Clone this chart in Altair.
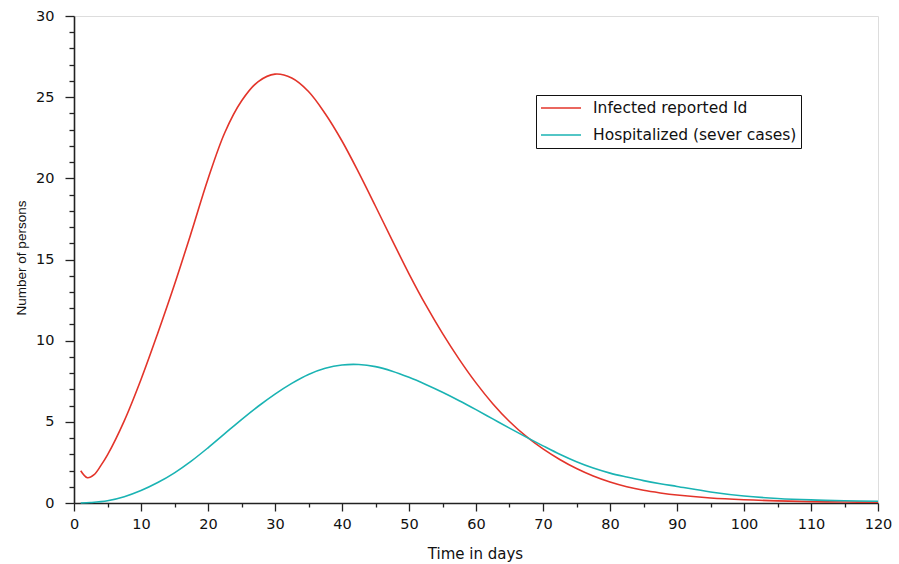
import altair as alt
import pandas as pd

# Infected reported Id
t_inf = [1, 2, 3, 4, 5, 7.5, 10, 12.5, 15, 17.5, 20, 22.5, 25, 27.5, 30, 32.5, 35, 37.5, 40,
         42.5, 45, 47.5, 50, 52.5, 55, 57.5, 60, 62.5, 65, 67.5, 70, 72.5, 75, 77.5, 80,
         82.5, 85, 87.5, 90, 95, 100, 105, 110, 115, 120]
v_inf = [1.99, 1.56, 1.75, 2.3, 2.96, 5.06, 7.61, 10.46, 13.46, 16.66, 19.96, 22.81, 24.76, 25.96,
         26.42, 26.18, 25.35, 23.98, 22.3, 20.35, 18.28, 16.18, 14.12, 12.2, 10.45, 8.85, 7.4,
         6.12, 5.02, 4.1, 3.33, 2.68, 2.12, 1.66, 1.29, 1.0, 0.78, 0.62, 0.49, 0.31, 0.2, 0.13,
         0.085, 0.06, 0.045]

# Hospitalized (sever cases)
t_hos = [1, 2.5, 5, 7.5, 10, 12.5, 15, 17.5, 20, 22.5, 25, 27.5, 30, 32.5, 35, 37.5, 40, 42.5,
         45, 47.5, 50, 52.5, 55, 57.5, 60, 62.5, 65, 67.5, 70, 72.5, 75, 77.5, 80, 82.5, 85,
         87.5, 90, 95, 100, 105, 110, 115, 120]
v_hos = [0.0, 0.03, 0.14, 0.39, 0.77, 1.26, 1.86, 2.58, 3.4, 4.27, 5.14, 5.96, 6.71, 7.37, 7.92,
         8.3, 8.5, 8.53, 8.4, 8.12, 7.74, 7.3, 6.82, 6.3, 5.75, 5.18, 4.61, 4.06, 3.52, 3.0, 2.54,
         2.15, 1.84, 1.6, 1.38, 1.19, 1.02, 0.68, 0.43, 0.28, 0.19, 0.14, 0.11]

series_names = ["Infected reported Id", "Hospitalized (sever cases)"]
series_colors = ["#e3342a", "#1ab3b3"]

x_ticks = list(range(0, 121, 5))
y_ticks = list(range(0, 31, 1))

df = pd.concat([
    pd.DataFrame({"t": t_inf, "v": v_inf, "s": series_names[0], "o": 0}),
    pd.DataFrame({"t": t_hos, "v": v_hos, "s": series_names[1], "o": 1}),
])

FONT = "DejaVu Sans"

chart = alt.Chart(df).mark_line(strokeWidth=1.6, interpolate="catmull-rom").encode(
    x=alt.X("t:Q", scale=alt.Scale(domain=[0, 120], nice=False, zero=False),
            axis=alt.Axis(title="Time in days", values=x_ticks, grid=False,
                          labelExpr="datum.value % 10 === 0 ? datum.label : ''",
                          tickSize={"condition": {"test": "datum.value % 10 === 0", "value": 8}, "value": 4},
                          labelPadding=6, labelFont=FONT, labelFontSize=14.5, labelColor="#111",
                          labelFlush=False,
                          domainColor="#222", domainWidth=1.6, tickColor="#222", tickWidth=1.3,
                          titleFont=FONT, titleFontSize=15, titleFontWeight="normal", titleColor="#111",
                          titleX=401, titleY=55, titleBaseline="alphabetic", titleAlign="center")),
    y=alt.Y("v:Q", scale=alt.Scale(domain=[0, 30], nice=False),
            axis=alt.Axis(title="Number of persons", values=y_ticks, grid=False,
                          labelExpr="datum.value % 5 === 0 ? datum.label : ''",
                          tickSize={"condition": {"test": "datum.value % 5 === 0", "value": 9}, "value": 5},
                          labelPadding=11, labelFont=FONT, labelFontSize=14.5, labelColor="#111",
                          labelFlush=False,
                          domainColor="#222", domainWidth=1.6, tickColor="#222", tickWidth=1.3,
                          titleFont="Liberation Sans", titleFontSize=13.5, titleFontWeight="normal",
                          titleColor="#111", titleX=-49, titleY=241.5, titleAngle=-90,
                          titleBaseline="alphabetic", titleAlign="center")),
    color=alt.Color("s:N", scale=alt.Scale(domain=series_names, range=series_colors),
                    legend=alt.Legend(title=None, orient="none", legendX=462, legendY=79,
                                      symbolType="M-1,0H4", symbolSize=256, symbolStrokeWidth=1.6,
                                      labelFont=FONT, labelFontSize=15.5, labelColor="#111",
                                      labelLimit=500, labelOffset=35, rowPadding=9, padding=4,
                                      strokeColor="#111", fillColor="white")),
    order="t:Q",
    detail="o:N",
).properties(
    width=804, height=487,
    autosize=alt.AutoSizeParams(type="none"),
    padding={"left": 74, "top": 16, "right": 21, "bottom": 61},
).configure_view(stroke=None).configure(background="white")

chart.save("out.html", embed_options={"renderer": "svg", "actions": False})
